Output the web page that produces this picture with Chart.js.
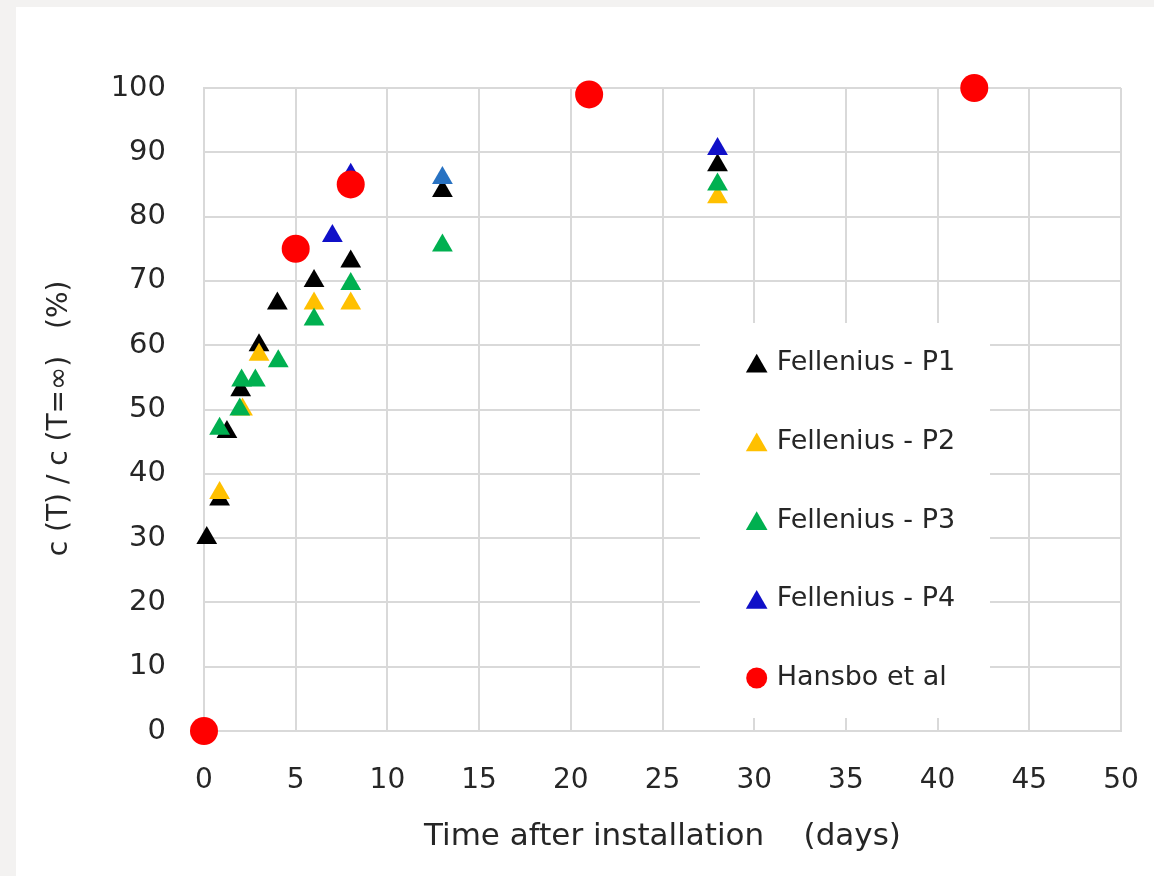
<!DOCTYPE html>
<html>
<head>
<meta charset="utf-8">
<script src="https://cdn.jsdelivr.net/npm/chart.js@4.4.1/dist/chart.umd.min.js"></script>
<style>
  html, body { margin: 0; padding: 0; background: #f3f2f1; }
  #wrap { position: absolute; left: 16px; top: 7px; width: 1138px; height: 869px; background: #fff; }
</style>
</head>
<body>
<div id="wrap"><canvas id="c"></canvas></div>
<script>
(function(){

    "use strict"

    // readings: days after installation / c(T)/c(T=inf) in %
    const p1X = [0.15, 0.85, 1.25, 2, 3, 4, 6, 8, 13, 28];
    const p1Y = [30, 36, 46.5, 53, 60, 66.5, 70, 73, 84, 88];

    const p2X = [0.85, 2.1, 3, 6, 8, 28];
    const p2Y = [37, 50, 58.5, 66.5, 66.5, 83];

    const p3X = [0.85, 1.95, 2.05, 2.8, 4.05, 6, 8, 13, 28];
    const p3Y = [47, 50, 54.5, 54.5, 57.5, 64, 69.5, 75.5, 85];

    const p4X = [7, 8, 13, 28];
    const p4Y = [77, 86.5, 86, 90.5];

    const hansboX = [0, 5, 8, 21, 42];
    const hansboY = [0, 75, 85, 99, 100];

    const seriesNames = ["Fellenius - P1", "Fellenius - P2", "Fellenius - P3", "Fellenius - P4", "Hansbo et al"];

    const xTickValues = [0, 5, 10, 15, 20, 25, 30, 35, 40, 45, 50];
    const yTickValues = [0, 10, 20, 30, 40, 50, 60, 70, 80, 90, 100];

    const FONT = '"DejaVu Sans", "Liberation Sans", sans-serif';
    const GRID = '#d9d9d9';
    const TEXT = '#262626';

    function pts(xs, ys) {
        return xs.map((x, i) => ({x: x, y: ys[i]}));
    }

    // one scatter series, triangles unless told otherwise
    function series(name, xs, ys, color, order, style) {
        return {
            label: name,
            data: pts(xs, ys),
            backgroundColor: color,
            pointStyle: style || 'triangle',
            pointRadius: style === 'circle' ? 14 : 12,
            pointHoverRadius: style === 'circle' ? 14 : 12,
            pointBorderWidth: 0,
            borderWidth: 0,
            clip: false,
            order: order // lower order is painted on top
        };
    }

    // legend sits in a white box inside the plot, like the Excel one
    const legendBox = {
        id: 'legendBox',
        beforeDatasetsDraw(chart) {
            const ctx = chart.ctx;
            ctx.save();
            ctx.fillStyle = '#fff';
            ctx.fillRect(684, 316, 290, 395);
            ctx.restore();
        },
        afterDatasetsDraw(chart) {
            const ctx = chart.ctx;
            ctx.save();
            ctx.font = '27px ' + FONT;
            ctx.textBaseline = 'middle';
            chart.data.datasets.forEach((ds, i) => {
                const y = 356 + i * 78.75;
                const color = Array.isArray(ds.backgroundColor) ? ds.backgroundColor[0] : ds.backgroundColor;
                const tri = ds.pointStyle === 'triangle';
                const r = tri ? 12.5 : 10.5;
                ctx.fillStyle = color;
                ctx.strokeStyle = color;
                Chart.helpers.drawPoint(ctx, {pointStyle: ds.pointStyle, radius: r, rotation: 0, borderWidth: 0}, 740.7, tri ? y + r / 4 : y);
                ctx.fillStyle = TEXT;
                ctx.fillText(ds.label, 760.7, y);
            });
            ctx.restore();
        }
    };

    new Chart(document.getElementById("c"), {
        type: 'scatter',
        data: {
            datasets: [
                series(seriesNames[0], p1X, p1Y, '#000000', 5),
                series(seriesNames[1], p2X, p2Y, '#FFC000', 4),
                series(seriesNames[2], p3X, p3Y, '#00B050', 3),
                series(seriesNames[3], p4X, p4Y, ['#1010C8', '#1010C8', '#2872C2', '#1010C8'], 2),
                series(seriesNames[4], hansboX, hansboY, '#FF0000', 1, 'circle')
            ]
        },
        options: {
            responsive: true,
            maintainAspectRatio: false,
            animation: false,
            events: [],
            layout: { padding: { top: 81, right: 33, left: 0, bottom: 0 } },
            plugins: {
                legend: { display: false },
                tooltip: { enabled: false }
            },
            scales: {
                x: {
                    type: 'linear',
                    min: 0,
                    max: 50,
                    afterBuildTicks: s => { s.ticks = xTickValues.map(v => ({value: v})); },
                    afterFit: s => { s.height = 145; s.paddingLeft = 0; s.paddingRight = 0; },
                    ticks: { font: { family: FONT, size: 28 }, color: TEXT, padding: 33, maxRotation: 0 },
                    grid: { color: GRID, lineWidth: 2, drawTicks: false },
                    border: { color: GRID, width: 2 },
                    title: {
                        display: true,
                        text: 'Time after installation    (days)',
                        font: { family: FONT, size: 31 },
                        color: TEXT,
                        padding: { top: 0, bottom: 20 }
                    }
                },
                y: {
                    type: 'linear',
                    min: 0,
                    max: 100,
                    afterBuildTicks: s => { s.ticks = yTickValues.map(v => ({value: v})); },
                    afterFit: s => { s.width = 188; s.paddingTop = 0; s.paddingBottom = 0; },
                    ticks: { font: { family: FONT, size: 29 }, color: TEXT, padding: 38 },
                    grid: { color: GRID, lineWidth: 2, drawTicks: false },
                    border: { color: GRID, width: 2 },
                    title: {
                        display: true,
                        text: 'c (T) / c (T=∞)   (%)  ',
                        font: { family: FONT, size: 28 },
                        color: TEXT,
                        padding: { top: 27, bottom: 0 }
                    }
                }
            }
        },
        plugins: [legendBox]
    });

}());
</script>
</body>
</html>
